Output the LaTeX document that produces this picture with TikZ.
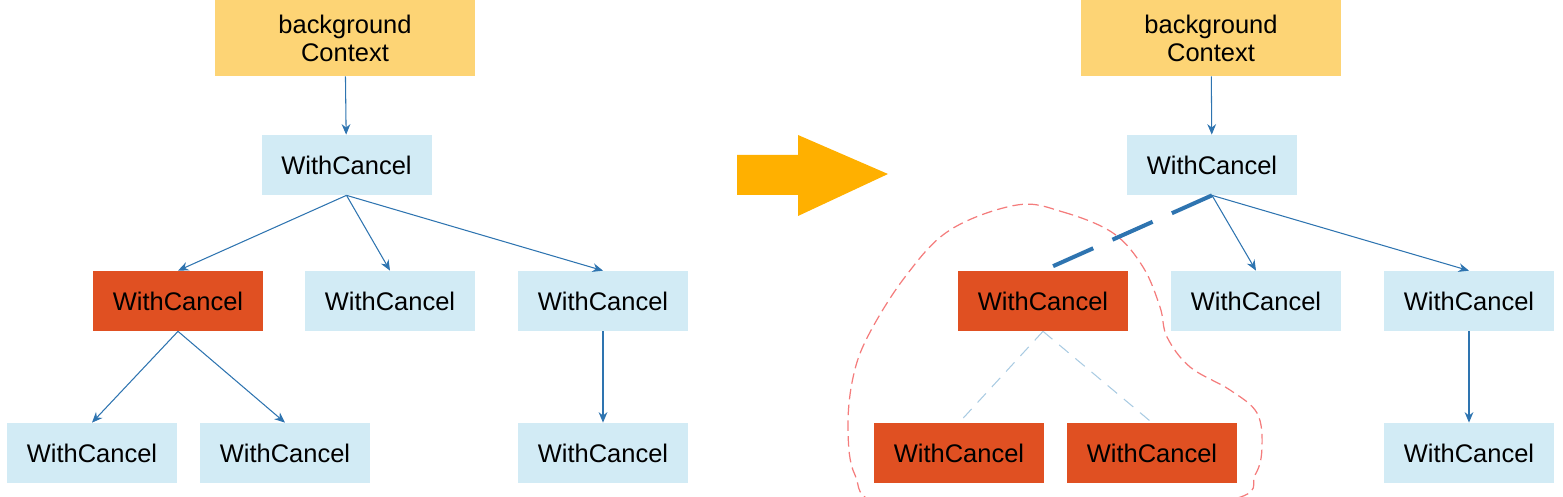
\documentclass[tikz,border=0pt]{standalone}
\usepackage{fontspec}
\setmainfont{Liberation Sans}
\usepackage{tikz}
\usetikzlibrary{arrows.meta}

\definecolor{ctxyellow}{HTML}{FDD475}
\definecolor{wcblue}{HTML}{D2EBF5}
\definecolor{wcred}{HTML}{E05022}
\definecolor{linkblue}{HTML}{2E74B0}
\definecolor{faintblue}{HTML}{A9CBE2}
\definecolor{bigarrow}{HTML}{FFB000}
\definecolor{blobred}{HTML}{F47C7C}

\begin{document}
\begin{tikzpicture}[>={Stealth[length=6pt,width=5pt]},
		ctx/.style={shape=rectangle,fill=ctxyellow,minimum width=5.2cm,minimum height=1.52cm,align=center,font=\fontsize{14.5}{16}\selectfont},
		wc/.style={shape=rectangle,fill=wcblue,minimum width=3.4cm,minimum height=1.2cm,font=\fontsize{14.5}{16}\selectfont},
		wcdone/.style={wc,fill=wcred},
		link/.style={draw=linkblue,line width=0.6pt}]
		\useasboundingbox (0,0) rectangle (31.26,-9.94);
		% left tree
		\node [ctx] (A0) at (6.9,-0.76) {background\\Context};
		\node [wc] (A1) at (6.93,-3.3) {WithCancel};
		\node [wcdone] (A2) at (3.56,-6.02) {WithCancel};
		\node [wc] (B2) at (7.8,-6.02) {WithCancel};
		\node [wc] (C2) at (12.06,-6.02) {WithCancel};
		\node [wc] (A3) at (1.84,-9.06) {WithCancel};
		\node [wc] (B3) at (5.7,-9.06) {WithCancel};
		\node [wc] (C3) at (12.06,-9.06) {WithCancel};
		\draw [link,->] (A0) -- (A1);
		\draw [link,->] (A1.south) -- (A2.north);
		\draw [link,->] (A1.south) -- (B2.north);
		\draw [link,->] (A1.south) -- (C2.north);
		\draw [link,->] (A2.south) -- (A3.north);
		\draw [link,->] (A2.south) -- (B3.north);
		\draw [link,->] (C2) -- (C3);
		% big arrow
		\fill [bigarrow] (14.74,-3.1) -- (15.96,-3.1) -- (15.96,-2.7) -- (17.76,-3.48) -- (15.96,-4.32) -- (15.96,-3.9) -- (14.74,-3.9) -- cycle;
		% right tree
		\draw [blobred,line width=0.7pt,dash pattern=on 6pt off 3pt] plot [smooth cycle,tension=0.6] coordinates {(20.34,-4.1) (21.26,-4.24) (22.26,-4.66) (22.86,-5.34) (23.2,-6.14) (23.34,-6.74) (23.8,-7.34) (24.6,-7.8) (25.14,-8.26) (25.24,-8.94) (25.1,-9.5) (24.6,-10.0) (21.0,-10.45) (17.7,-10.1) (17.1,-9.5) (16.96,-8.6) (17.05,-7.6) (17.35,-6.74) (18.1,-5.54) (19.0,-4.6)};
		\node [ctx] (D0) at (24.22,-0.76) {background\\Context};
		\node [wc] (D1) at (24.24,-3.3) {WithCancel};
		\node [wcdone] (D2) at (20.86,-6.02) {WithCancel};
		\node [wc] (E2) at (25.12,-6.02) {WithCancel};
		\node [wc] (F2) at (29.38,-6.02) {WithCancel};
		\node [wcdone] (D3) at (19.18,-9.06) {WithCancel};
		\node [wcdone] (E3) at (23.04,-9.06) {WithCancel};
		\node [wc] (F3) at (29.38,-9.06) {WithCancel};
		\draw [link,->] (D0) -- (D1);
		\draw [draw=linkblue,line width=2.3pt,dash pattern=on 25pt off 12pt] (D1.south) -- (D2.north);
		\draw [link,->] (D1.south) -- (E2.north);
		\draw [link,->] (D1.south) -- (F2.north);
		\draw [faintblue,line width=0.6pt,dash pattern=on 7pt off 5pt] (D2.south) -- (D3.north);
		\draw [faintblue,line width=0.6pt,dash pattern=on 7pt off 5pt] (D2.south) -- (E3.north);
		\draw [link,->] (F2) -- (F3);
	\end{tikzpicture}
\end{document}
